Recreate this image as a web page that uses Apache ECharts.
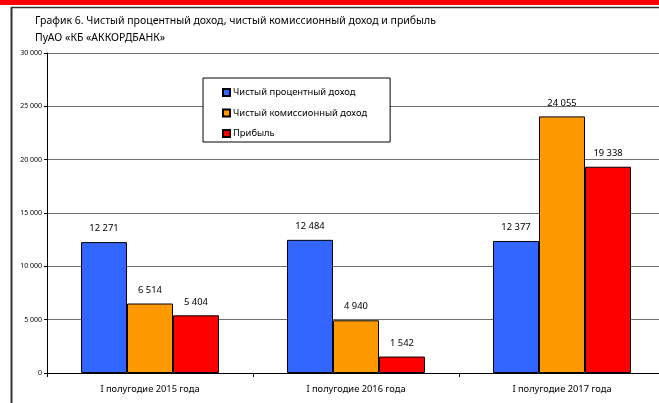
<!DOCTYPE html>
<html>
<head>
<meta charset="utf-8">
<script src="https://cdn.jsdelivr.net/npm/echarts@6/dist/echarts.min.js"></script>
<style>
html,body{margin:0;padding:0;background:#fff;overflow:hidden;width:659px;height:403px;}
#c{width:672px;height:403px;}
</style>
</head>
<body>
<div id="c"></div>
<script>
var categories = ['I полугодие 2015 года', 'I полугодие 2016 года', 'I полугодие 2017 года'];
var seriesNames = ['Чистый процентный доход', 'Чистый комиссионный доход', 'Прибыль'];
var netInterest = [12271, 12484, 12377];
var netCommission = [6514, 4940, 24055];
var profit = [5404, 1542, 19338];
var colors = ['#3366FF', '#FF9900', '#FF0000'];
var titleLines = ['График 6. Чистый процентный доход, чистый комиссионный доход и прибыль', 'ПуАО «КБ «АККОРДБАНК»'];
var yMax = 30000, yStep = 5000;

function fmt(v){ return String(v).replace(/\B(?=(\d{3})+(?!\d))/g, ' '); }

var FONT = 'Noto Sans';
var chart = echarts.init(document.getElementById('c'));
var values = [netInterest, netCommission, profit];
var series = values.map(function(arr, i){
  return {
    name: seriesNames[i], type: 'bar', data: arr,
    barGap: '0%', barCategoryGap: '33%',
    itemStyle: {color: colors[i], borderColor: '#000', borderWidth: 1},
    label: {show: true, position: 'top', distance: 9, color: '#000', fontFamily: FONT, fontSize: 9.4,
      formatter: function(p){ return fmt(p.value); }},
    emphasis: {disabled: true}
  };
});
chart.setOption({
  animation: false,
  textStyle: {fontFamily: FONT},
  title: {
    text: titleLines.join('\n'), left: 30, top: 8,
    textStyle: {fontFamily: FONT, fontSize: 10.5, fontWeight: 'normal', color: '#000', lineHeight: 17}
  },
  legend: {
    orient: 'vertical', left: 203, top: 78,
    padding: [10, 23, 4, 19],
    itemWidth: 7, itemHeight: 7, itemGap: 11.5,
    backgroundColor: '#fff', borderColor: '#000', borderWidth: 1,
    icon: 'rect',
    textStyle: {fontFamily: FONT, fontSize: 9.4, color: '#000', padding: [0,0,0,-2]},
    data: seriesNames
  },
  grid: {left: 47, right: 7, top: 53, bottom: 30, containLabel: false},
  xAxis: {
    type: 'category', data: categories,
    axisLine: {lineStyle: {color: '#000', width: 1}},
    axisTick: {show: true, length: 4, lineStyle: {color: '#000'}},
    axisLabel: {color: '#000', fontFamily: FONT, fontSize: 9.3, margin: 12}
  },
  yAxis: {
    type: 'value', min: 0, max: yMax, interval: yStep,
    axisLine: {show: true, lineStyle: {color: '#000', width: 1}},
    axisTick: {show: true, length: 3, lineStyle: {color: '#000'}},
    axisLabel: {color: '#000', fontFamily: FONT, fontSize: 7, margin: 5, formatter: function(v){ return fmt(v); }},
    splitLine: {show: true, lineStyle: {color: '#6e6e6e', width: 1}}
  },
  graphic: [
    {type: 'rect', shape: {x: 0, y: 0, width: 672, height: 5}, style: {fill: '#FF0000'}, silent: true},
    {type: 'line', shape: {x1: 11, y1: 7.5, x2: 672, y2: 7.5}, style: {stroke: '#333', lineWidth: 1.5}, silent: true},
    {type: 'line', shape: {x1: 11.5, y1: 7, x2: 11.5, y2: 403}, style: {stroke: '#333', lineWidth: 2}, silent: true}
  ],
  series: series
});
</script>
</body>
</html>
